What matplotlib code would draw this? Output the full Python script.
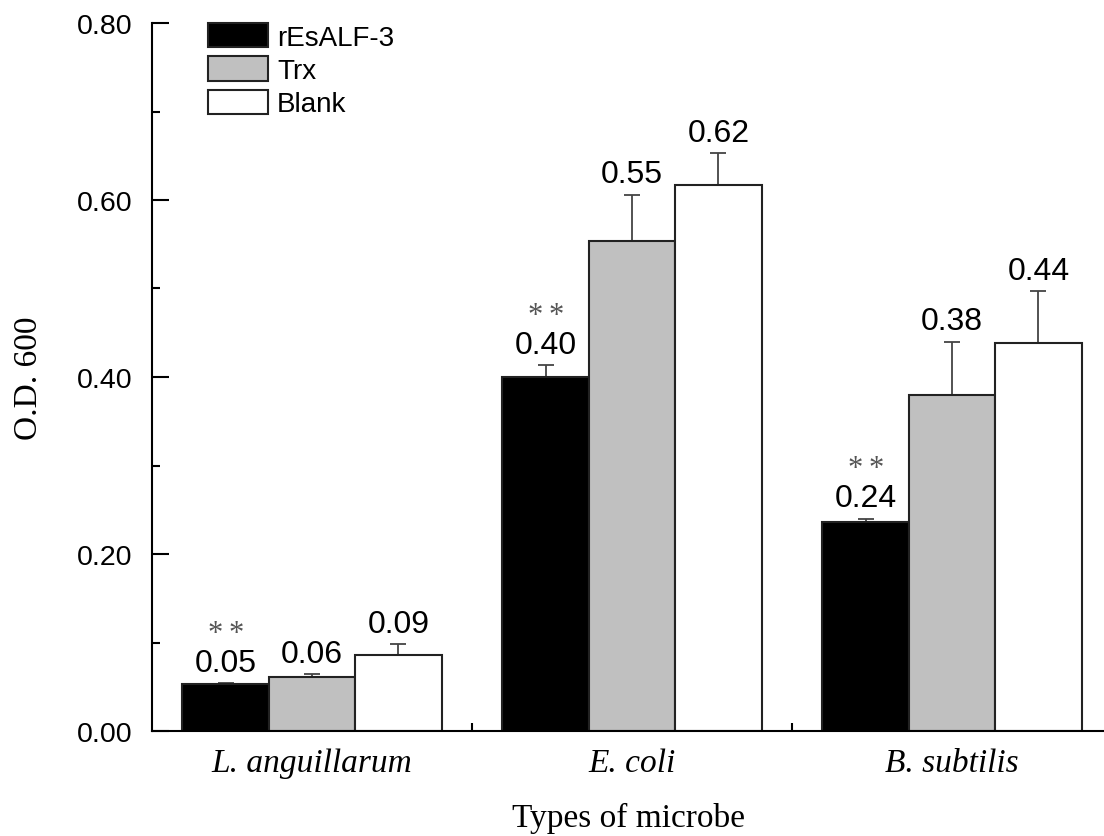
import numpy as np
import matplotlib.pyplot as plt
from matplotlib.ticker import MultipleLocator, FixedLocator

# data
microbes = ['L. anguillarum', 'E. coli', 'B. subtilis']
series = ['rEsALF-3', 'Trx', 'Blank']
values = {
    'rEsALF-3': [0.053, 0.400, 0.236],
    'Trx': [0.061, 0.554, 0.380],
    'Blank': [0.086, 0.617, 0.438],
}
errors = {
    'rEsALF-3': [0.001, 0.013, 0.004],
    'Trx': [0.003, 0.052, 0.060],
    'Blank': [0.012, 0.036, 0.059],
}
labels = {
    'rEsALF-3': ['0.05', '0.40', '0.24'],
    'Trx': ['0.06', '0.55', '0.38'],
    'Blank': ['0.09', '0.62', '0.44'],
}
colors = {'rEsALF-3': '#000000', 'Trx': '#c0c0c0', 'Blank': '#ffffff'}

sans = ['Liberation Sans', 'DejaVu Sans']
serif = ['Liberation Serif', 'DejaVu Serif']

fig = plt.figure(figsize=(11.04, 8.37), dpi=100)
ax = fig.add_axes([152 / 1104, 1 - 732 / 837, (1104 - 152) / 1104, (732 - 24) / 837])

x = np.arange(len(microbes))
width = 0.27
for i, name in enumerate(series):
    pos = x + (i - 1) * width
    ax.bar(pos, values[name], width, color=colors[name], edgecolor='#222222',
           linewidth=1.5, label=name, zorder=2)
    ax.errorbar(pos, values[name], yerr=[np.zeros(3), errors[name]], fmt='none',
                ecolor='#444444', elinewidth=1.3, capsize=6, capthick=1.3, zorder=1)
    for px, v, e, t in zip(pos, values[name], errors[name], labels[name]):
        ax.annotate(t, (px, v + e), xytext=(0, 9), textcoords='offset points',
                    ha='center', va='baseline', fontsize=23, family=sans)
        if name == 'rEsALF-3':
            # significance marks
            for dx in (-7.5, 7.5):
                ax.annotate('*', (px, v + e), xytext=(dx, 30.5), textcoords='offset points',
                            ha='center', va='baseline', fontsize=22, color='#555555',
                            family=serif)

ax.set_xlim(-0.5, 2.475)
ax.set_ylim(0, 0.80)
ax.spines['top'].set_visible(False)
ax.spines['right'].set_visible(False)
ax.spines['left'].set_linewidth(1.5)
ax.spines['bottom'].set_linewidth(1.5)

ax.set_xticks(x)
ax.set_xticklabels(microbes, fontsize=24, family=serif, style='italic')
ax.xaxis.set_minor_locator(FixedLocator([0.5, 1.5]))
ax.set_yticks(np.arange(0, 0.81, 0.2))
ax.set_yticklabels(['%.2f' % v for v in np.arange(0, 0.81, 0.2)], fontsize=20.5, family=sans)
ax.yaxis.set_minor_locator(MultipleLocator(0.1))
ax.tick_params(which='major', direction='in', length=12, width=1.5, pad=14)
ax.tick_params(which='minor', direction='in', length=6, width=1.5)
ax.tick_params(axis='x', which='major', pad=12)

ax.set_ylabel('O.D. 600', fontsize=24, family=serif, labelpad=24)
ax.set_xlabel('Types of microbe', fontsize=24, family=serif, labelpad=17)

ax.legend(loc='upper left', bbox_to_anchor=(0.059, 1.0), frameon=False,
          prop={'family': sans, 'size': 20}, handlelength=2.16, handleheight=0.97,
          handletextpad=0.32, labelspacing=0.2, borderpad=0, borderaxespad=0)

fig.savefig('out.png', dpi=100)
